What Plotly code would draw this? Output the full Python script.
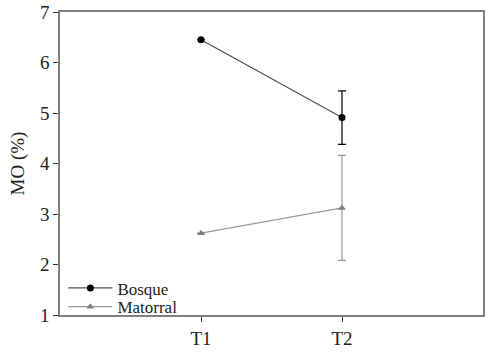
import plotly.graph_objects as go

categories = ["T1", "T2"]
x_pos = [1, 2]
bosque = [6.45, 4.91]
bosque_err = [0, 0.53]
matorral = [2.62, 3.12]
matorral_err = [0, 1.04]

fig = go.Figure()
fig.add_trace(go.Scatter(
    x=x_pos, y=bosque, name="Bosque", mode="lines+markers", legend="legend",
    line=dict(color="#505050", width=1.2),
    marker=dict(symbol="circle", size=7, color="black"),
    error_y=dict(type="data", array=bosque_err, visible=True, color="black", thickness=1.2, width=4),
))
fig.add_trace(go.Scatter(
    x=x_pos, y=matorral, name="Matorral", mode="lines+markers", legend="legend2",
    line=dict(color="#999999", width=1.2),
    marker=dict(symbol="triangle-up", size=7, color="#808080"),
    error_y=dict(type="data", array=matorral_err, visible=True, color="#999999", thickness=1.2, width=4),
))

axis_common = dict(showline=True, linecolor="#808080", linewidth=1.5, mirror=True,
                   ticks="outside", ticklen=5, tickcolor="#333", showgrid=False, zeroline=False,
                   automargin=False,
                   tickfont=dict(family="Liberation Serif", size=19, color="#222"))
leg_common = dict(xanchor="left", yanchor="middle", bgcolor="rgba(0,0,0,0)",
                  font=dict(family="Liberation Serif", size=17, color="#222"),
                  itemwidth=44, borderwidth=0)
fig.update_layout(
    width=494, height=356,
    margin=dict(l=60, r=11, t=12, b=41, autoexpand=False),
    paper_bgcolor="white", plot_bgcolor="white",
    font=dict(family="Liberation Serif", size=18, color="#222"),
    xaxis=dict(range=[0, 3], tickvals=x_pos, ticktext=categories, **axis_common),
    yaxis=dict(range=[1, 7], dtick=1, title=dict(text="MO (%)", standoff=10,
               font=dict(family="Liberation Serif", size=19)), **axis_common),
    legend=dict(x=0.008, y=0.088, **leg_common),
    legend2=dict(x=0.008, y=0.026, **leg_common),
    showlegend=True,
)
fig.write_html("out.html", config={"displayModeBar": False},
               post_script="document.body.style.margin='0';document.body.style.overflow='hidden';")
